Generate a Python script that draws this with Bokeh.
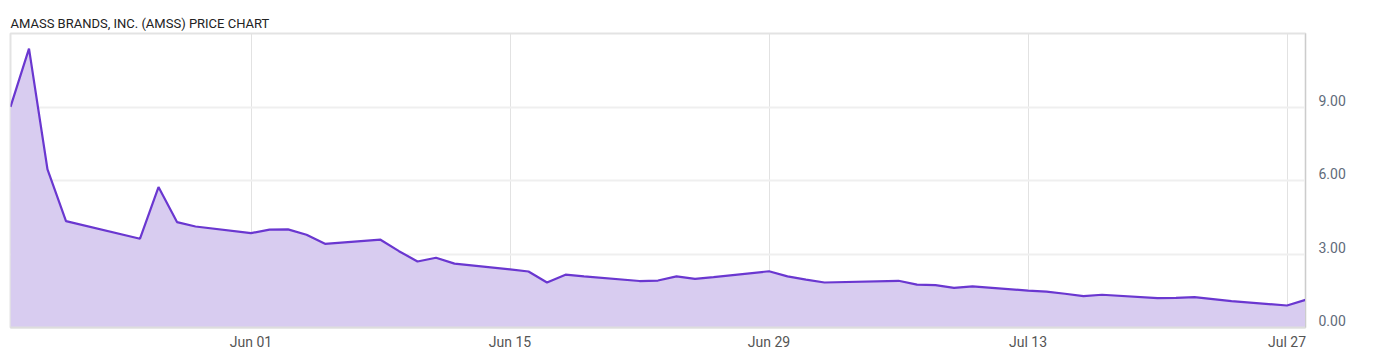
from datetime import datetime
from bokeh.plotting import figure
from bokeh.models import (Range1d, FixedTicker, NumeralTickFormatter, DatetimeTickFormatter,
                          ColumnDataSource, LinearAxis)
from bokeh.embed import file_html
from bokeh.resources import INLINE

dates = ["2020-05-19", "2020-05-20", "2020-05-21", "2020-05-22", "2020-05-26", "2020-05-27",
         "2020-05-28", "2020-05-29", "2020-06-01", "2020-06-02", "2020-06-03", "2020-06-04",
         "2020-06-05", "2020-06-08", "2020-06-09", "2020-06-10", "2020-06-11", "2020-06-12",
         "2020-06-15", "2020-06-16", "2020-06-17", "2020-06-18", "2020-06-19", "2020-06-22",
         "2020-06-23", "2020-06-24", "2020-06-25", "2020-06-26", "2020-06-29", "2020-06-30",
         "2020-07-01", "2020-07-02", "2020-07-06", "2020-07-07", "2020-07-08", "2020-07-09",
         "2020-07-10", "2020-07-13", "2020-07-14", "2020-07-15", "2020-07-16", "2020-07-17",
         "2020-07-20", "2020-07-21", "2020-07-22", "2020-07-23", "2020-07-24", "2020-07-27",
         "2020-07-28"]
prices = [9.02, 11.40, 6.46, 4.35, 3.63, 5.74,
          4.31, 4.13, 3.86, 4.00, 4.01, 3.79,
          3.42, 3.59, 3.12, 2.70, 2.85, 2.61,
          2.38, 2.29, 1.84, 2.16, 2.09, 1.90,
          1.92, 2.09, 1.99, 2.06, 2.30, 2.09,
          1.96, 1.84, 1.91, 1.75, 1.73, 1.62,
          1.68, 1.51, 1.47, 1.38, 1.28, 1.34,
          1.20, 1.21, 1.24, 1.16, 1.08, 0.90,
          1.13]
x_tick_dates = ["2020-06-01", "2020-06-15", "2020-06-29", "2020-07-13", "2020-07-27"]
y_ticks = [0, 3, 6, 9]
title_text = "AMASS BRANDS, INC. (AMSS) PRICE CHART"

Y_MAX = 12.02
LABEL_LIFT = 0.29  # labels sit just above their gridlines

xs = [datetime.strptime(d, "%Y-%m-%d") for d in dates]
src = ColumnDataSource(dict(x=xs, y=prices, zero=[0] * len(prices)))

def ms(d):
    return datetime.strptime(d, "%Y-%m-%d").timestamp() * 1000.0

p = figure(width=1400, height=357, x_axis_type="datetime", y_axis_location=None,
           output_backend="svg", toolbar_location=None,
           x_range=Range1d(xs[0], xs[-1]), y_range=Range1d(0, Y_MAX),
           min_border_left=10, min_border_right=95, min_border_top=33, min_border_bottom=30,
           title=title_text)
p.extra_y_ranges = {"lab": Range1d(-LABEL_LIFT, Y_MAX - LABEL_LIFT)}

p.title.text_font = "Roboto"
p.title.text_font_size = "13px"
p.title.text_font_style = "normal"
p.title.text_color = "#222222"
p.title.align = "left"
p.title.standoff = 6

p.varea(x="x", y1="zero", y2="y", source=src, fill_color="#d8ccf0", fill_alpha=1.0)
p.line(x="x", y="y", source=src, line_color="#6a37d0", line_width=2.2)

p.xaxis.ticker = FixedTicker(ticks=[ms(d) for d in x_tick_dates])
p.xaxis.formatter = DatetimeTickFormatter(days="%b %d", months="%b %d", hours="%b %d", years="%b %d")

yax = LinearAxis(y_range_name="lab", ticker=FixedTicker(ticks=y_ticks),
                 formatter=NumeralTickFormatter(format="0.00"))
p.add_layout(yax, "right")

for ax in (p.xaxis[0], yax):
    ax.major_tick_line_color = None
    ax.minor_tick_line_color = None
    ax.major_label_text_font = "Roboto"
    ax.major_label_text_font_size = "14px"

p.xaxis.major_label_text_color = "#555555"
p.xaxis.major_label_standoff = 0
p.xaxis.axis_line_color = "#dddddd"
p.xaxis.axis_line_width = 2
yax.major_label_text_color = "#5f6b7a"
yax.major_label_standoff = 7
yax.axis_line_color = "#cccccc"
yax.axis_line_width = 1

p.xgrid.grid_line_color = "#e2e2e2"
p.xgrid.grid_line_width = 1
p.ygrid.ticker = FixedTicker(ticks=y_ticks)
p.ygrid.grid_line_color = "#efefef"
p.ygrid.grid_line_width = 2

p.outline_line_color = "#e3e3e3"
p.outline_line_width = 2
p.background_fill_color = "white"
p.border_fill_color = "white"

open("out.html", "w").write(file_html(p, INLINE))
